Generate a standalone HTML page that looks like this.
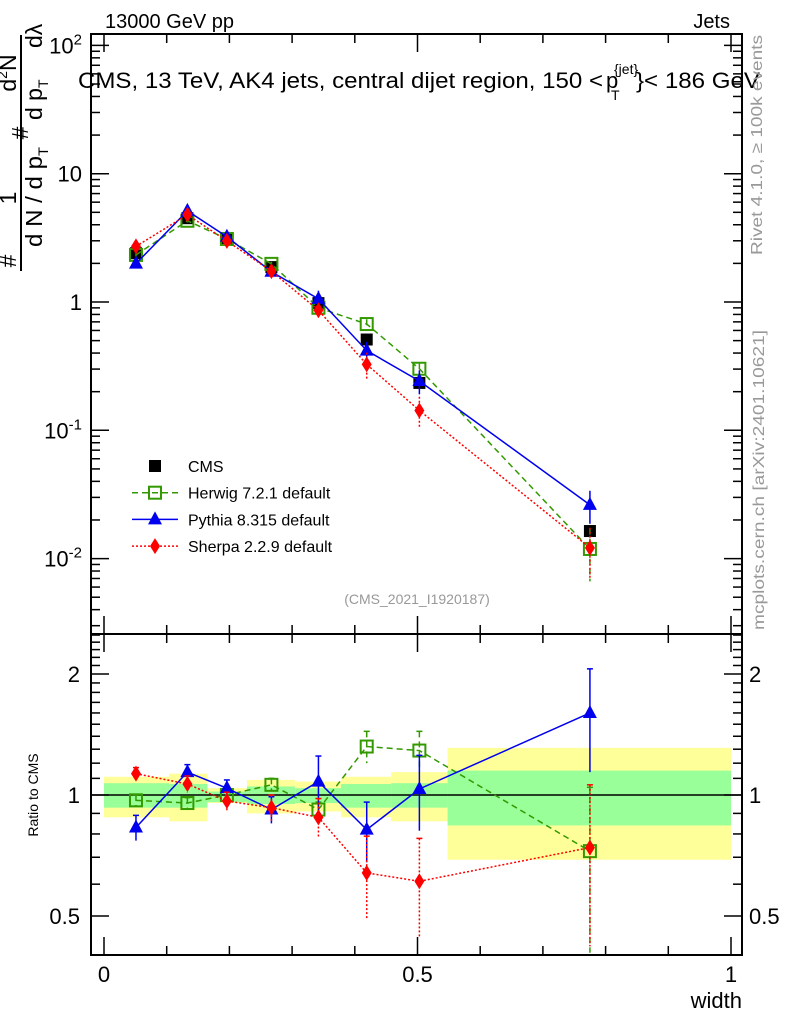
<!DOCTYPE html>
<html><head><meta charset="utf-8"><style>
html,body{margin:0;padding:0;background:#fff}
svg{display:block;font-family:"Liberation Sans",sans-serif}
</style></head><body>
<svg id="chart" width="786" height="1024" viewBox="0 0 786 1024" xmlns="http://www.w3.org/2000/svg">
<g id="bands"></g>
<g id="axes"></g>
<g id="series"></g>
<g id="labels">
<text x="105" y="28" font-size="20">13000 GeV pp</text>
<text x="730" y="28" font-size="20" text-anchor="end">Jets</text>
<g font-size="22">
<text x="78" y="88" textLength="525" lengthAdjust="spacingAndGlyphs">CMS, 13 TeV, AK4 jets, central dijet region, 150 &lt;</text>
<text x="606" y="88">p</text>
<text x="614" y="74" font-size="14">{jet}</text>
<text x="611" y="100" font-size="14">T</text>
<text x="636" y="88" textLength="124" lengthAdjust="spacingAndGlyphs">}&lt; 186 GeV</text>
</g>
<text x="417" y="604" font-size="14" fill="#999" text-anchor="middle">(CMS_2021_I1920187)</text>
<text transform="translate(762,255) rotate(-90)" font-size="16" fill="#999" textLength="220" lengthAdjust="spacingAndGlyphs">Rivet 4.1.0, ≥ 100k events</text>
<text transform="translate(764,630) rotate(-90)" font-size="16" fill="#999" textLength="300" lengthAdjust="spacingAndGlyphs">mcplots.cern.ch [arXiv:2401.10621]</text>
<text transform="translate(38,795) rotate(-90)" font-size="14" text-anchor="middle">Ratio to CMS</text>
<text x="742" y="1008" font-size="22" text-anchor="end">width</text>
<g font-size="23">
<line x1="21" y1="35" x2="21" y2="271" stroke="#000" stroke-width="2"/>
<text transform="translate(16,261) rotate(-90)" text-anchor="middle">#</text>
<text transform="translate(16,198) rotate(-90)" text-anchor="middle">1</text>
<text transform="translate(16,73) rotate(-90)" text-anchor="middle">d<tspan font-size="14" dy="-9">2</tspan><tspan dy="9">N</tspan></text>
<text transform="translate(28,133) rotate(-90)" text-anchor="middle">#</text>
<text transform="translate(42,247) rotate(-90)" textLength="100" lengthAdjust="spacingAndGlyphs">d N / d p<tspan font-size="14" dy="6">T</tspan></text>
<text transform="translate(42,120) rotate(-90)">d p<tspan font-size="14" dy="6">T</tspan></text>
<text transform="translate(42,48) rotate(-90)">dλ</text>
</g>
</g>
<g id="legend"></g>
</svg>
<script>
const xs = [0.051, 0.133, 0.196, 0.267, 0.342, 0.419, 0.503, 0.775];
const cmsVals = [2.4, 4.5, 3.1, 1.87, 0.98, 0.51, 0.234, 0.0164];
const herwigRatio = [0.97, 0.955, 1.0, 1.06, 0.92, 1.32, 1.29, 0.725];
const herwigErr = [0.03, 0.03, 0.03, 0.04, 0.04, 0.12, 0.15, 0.32];
const pythiaRatio = [0.83, 1.14, 1.04, 0.92, 1.08, 0.82, 1.035, 1.6];
const pythiaErr = [0.06, 0.05, 0.05, 0.07, 0.17, 0.14, 0.22, 0.46];
const sherpaRatio = [1.13, 1.065, 0.966, 0.93, 0.88, 0.64, 0.61, 0.74];
const sherpaErr = [0.04, 0.05, 0.05, 0.07, 0.1, 0.15, 0.17, 0.32];
const binEdges = [0, 0.104, 0.165, 0.228, 0.305, 0.378, 0.458, 0.548, 1.0];
const yellowHi = [1.11, 1.13, 1.04, 1.09, 1.08, 1.11, 1.14, 1.31];
const yellowLo = [0.88, 0.86, 0.955, 0.9, 0.91, 0.88, 0.86, 0.69];
const greenHi = [1.07, 1.065, 1.02, 1.05, 1.04, 1.065, 1.07, 1.15];
const greenLo = [0.93, 0.93, 0.96, 0.95, 0.955, 0.93, 0.93, 0.84];
const topTicks = [100, 10, 1, 0.1, 0.01];
const topTickLabels = ["10^2", "10", "1", "10^-1", "10^-2"];
const ratioTicks = [2, 1, 0.5];
const xTicks = [0, 0.5, 1];

const NS = "http://www.w3.org/2000/svg";
const L = 91, R = 742, T1 = 34, B1 = 634, B2 = 955;
const X = v => 104 + 627 * v;
const Y1 = v => 302 - 128.3 * Math.log10(v);
const Y2 = r => 795 - 121 * Math.log2(r);
function mk(tag, attrs, parent) {
  const e = document.createElementNS(NS, tag);
  for (const k in attrs) e.setAttribute(k, attrs[k]);
  parent.appendChild(e); return e;
}
const axes = document.getElementById('axes');
const bands = document.getElementById('bands');
const series = document.getElementById('series');
const legend = document.getElementById('legend');

for (let i = 0; i < binEdges.length - 1; i++) {
  const x0 = X(binEdges[i]), x1 = X(binEdges[i+1]);
  const y = mk('rect', {x: x0, y: Y2(yellowHi[i]), width: x1 - x0, height: Y2(yellowLo[i]) - Y2(yellowHi[i]), fill: '#ffff99'}, bands);
  
  
  const g = mk('rect', {x: x0, y: Y2(greenHi[i]), width: x1 - x0, height: Y2(greenLo[i]) - Y2(greenHi[i]), fill: '#99ff99'}, bands);
  
  
}
mk('line', {x1: L, x2: R, y1: Y2(1), y2: Y2(1), stroke: '#000', 'stroke-width': 1.5}, axes);

mk('rect', {x: L, y: T1, width: R - L, height: B1 - T1, fill: 'none', stroke: '#000', 'stroke-width': 2}, axes);
mk('rect', {x: L, y: B1, width: R - L, height: B2 - B1, fill: 'none', stroke: '#000', 'stroke-width': 2}, axes);

for (let k = 0; k <= 10; k++) {
  const v = k / 10, major = k % 5 === 0, len = major ? 18 : 9;
  for (const [yb, yt] of [[B1, T1], [B2, B1]]) {
    mk('line', {x1: X(v), x2: X(v), y1: yb, y2: yb - len, stroke: '#000', 'stroke-width': 1.5}, axes);
    mk('line', {x1: X(v), x2: X(v), y1: yt, y2: yt + len, stroke: '#000', 'stroke-width': 1.5}, axes);
  }
}
xTicks.forEach(v => {
  const t = mk('text', {x: X(v), y: 982, 'font-size': 22, 'text-anchor': 'middle'}, axes);
  t.textContent = String(v);
  
  
});

for (let e = -3; e <= 2; e++) {
  for (let m = 1; m <= 9; m++) {
    const v = m * Math.pow(10, e), y = Y1(v);
    if (y < T1 || y > B1) continue;
    const len = m === 1 ? 18 : 9;
    mk('line', {x1: L, x2: L + len, y1: y, y2: y, stroke: '#000', 'stroke-width': 1.5}, axes);
    mk('line', {x1: R, x2: R - len, y1: y, y2: y, stroke: '#000', 'stroke-width': 1.5}, axes);
  }
}
topTicks.forEach((v, i) => {
  const lab = topTickLabels[i];
  const t = mk('text', {x: 82, y: Y1(v) + 8, 'font-size': 22, 'text-anchor': 'end'}, axes);
  if (lab.includes('^')) {
    const [b, p] = lab.split('^');
    t.textContent = b;
    const s = mk('tspan', {'font-size': 15, dy: -9}, t); s.textContent = p;
  } else t.textContent = lab;
  
  
});

const minorR = [0.4,0.5,0.6,0.7,0.8,0.9,1,1.1,1.2,1.3,1.4,1.5,1.6,1.7,1.8,1.9,2,2.1,2.2,2.3,2.4,2.5];
minorR.forEach(r => {
  const y = Y2(r); if (y < B1 || y > B2) return;
  const len = ratioTicks.includes(r) ? 18 : 9;
  mk('line', {x1: L, x2: L + len, y1: y, y2: y, stroke: '#000', 'stroke-width': 1.5}, axes);
  mk('line', {x1: R, x2: R - len, y1: y, y2: y, stroke: '#000', 'stroke-width': 1.5}, axes);
});
ratioTicks.forEach(r => {
  const t = mk('text', {x: 80, y: Y2(r) + 8, 'font-size': 22, 'text-anchor': 'end'}, axes);
  t.textContent = String(r);
  
  
  const t2 = mk('text', {x: 749, y: Y2(r) + 8, 'font-size': 22}, axes);
  t2.textContent = String(r);
  
  
});

function marker(kind, x, y, color, parent) {
  if (kind === 'sq') return mk('rect', {x: x - 6, y: y - 6, width: 12, height: 12, fill: '#000'}, parent);
  if (kind === 'osq') return mk('rect', {x: x - 6, y: y - 6, width: 12, height: 12, fill: 'none', stroke: color, 'stroke-width': 2}, parent);
  if (kind === 'tri') return mk('polygon', {points: `${x},${y-8} ${x-7},${y+5} ${x+7},${y+5}`, fill: color}, parent);
  return mk('polygon', {points: `${x},${y-8} ${x-5},${y} ${x},${y+8} ${x+5},${y}`, fill: color}, parent);
}

const cmsG = mk('g', {}, series);


cmsVals.forEach((v, i) => {
  const m = marker('sq', X(xs[i]), Y1(v), '#000', cmsG);
  
  
});

const models = [
  {name: 'herwig', ratio: herwigRatio, err: herwigErr, color: '#339900', dash: '6,4', kind: 'osq', label: 'Herwig 7.2.1 default'},
  {name: 'pythia', ratio: pythiaRatio, err: pythiaErr, color: '#0000ee', dash: '', kind: 'tri', label: 'Pythia 8.315 default'},
  {name: 'sherpa', ratio: sherpaRatio, err: sherpaErr, color: '#ff0000', dash: '2,2', kind: 'dia', label: 'Sherpa 2.2.9 default'}
];
models.forEach(md => {
  const g = mk('g', {}, series);
  
  
  const topPts = md.ratio.map((r, i) => [X(xs[i]), Y1(r * cmsVals[i])]);
  const botPts = md.ratio.map((r, i) => [X(xs[i]), Y2(r)]);
  const la = {fill: 'none', stroke: md.color, 'stroke-width': 1.5};
  if (md.dash) la['stroke-dasharray'] = md.dash;
  const l1 = mk('polyline', Object.assign({points: topPts.map(p => p.join(',')).join(' ')}, la), g);
  
  
  const l2 = mk('polyline', Object.assign({points: botPts.map(p => p.join(',')).join(' ')}, la), g);
  
  
  md.ratio.forEach((r, i) => {
    const x = X(xs[i]), e = md.err[i];
    const lo = Math.max(r - e, 0.3);
    const ea = Object.assign({}, la);
    mk('line', Object.assign({x1: x, x2: x, y1: Y2(r + e), y2: Math.min(Y2(lo), B2)}, ea), g);
    mk('line', {x1: x - 3, x2: x + 3, y1: Y2(r + e), y2: Y2(r + e), stroke: md.color, 'stroke-width': 1.5}, g);
    const c = cmsVals[i];
    mk('line', Object.assign({x1: x, x2: x, y1: Y1((r + e) * c), y2: Y1(lo * c)}, ea), g);
    const m1 = marker(md.kind, x, Y1(r * c), md.color, g);
    
    
    const m2 = marker(md.kind, x, Y2(r), md.color, g);
    
    
  });
});

const legRows = [{kind: 'sq', color: '#000', label: 'CMS', dash: null}].concat(models.map(m => ({kind: m.kind, color: m.color, label: m.label, dash: m.dash})));
legRows.forEach((row, i) => {
  const y = 466 + i * 26.7;
  const g = mk('g', {}, legend);
  
  
  if (row.dash !== null) {
    const a = {x1: 132, x2: 178, y1: y, y2: y, stroke: row.color, 'stroke-width': 1.5};
    if (row.dash) a['stroke-dasharray'] = row.dash;
    mk('line', a, g);
  }
  marker(row.kind, 155, y, row.color, g);
  const t = mk('text', {x: 188, y: y + 6, 'font-size': 16}, g);
  t.textContent = row.label;
});
</script>
</body></html>
